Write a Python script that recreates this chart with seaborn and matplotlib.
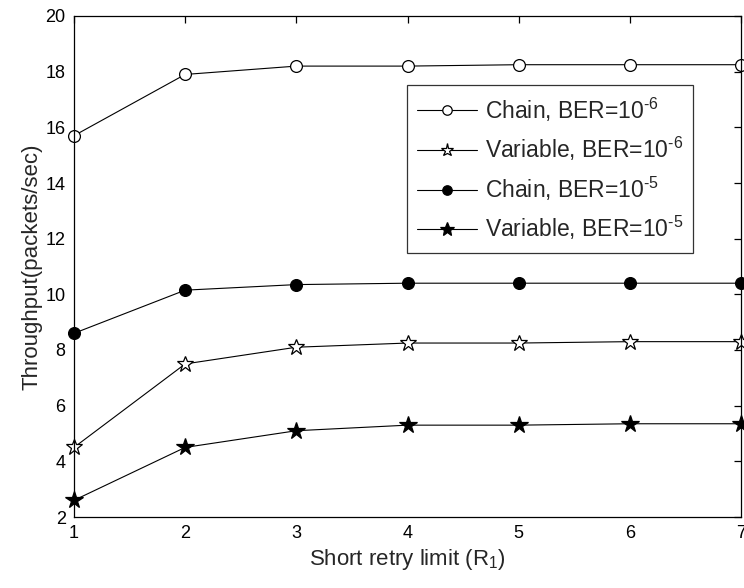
import matplotlib
matplotlib.use("Agg")
import matplotlib.pyplot as plt
import seaborn as sns
import pandas as pd

retry_limit = [1, 2, 3, 4, 5, 6, 7]
chain_ber6 = [15.7, 17.9, 18.2, 18.2, 18.25, 18.25, 18.25]
variable_ber6 = [4.5, 7.5, 8.1, 8.25, 8.25, 8.3, 8.3]
chain_ber5 = [8.6, 10.15, 10.35, 10.4, 10.4, 10.4, 10.4]
variable_ber5 = [2.6, 4.5, 5.1, 5.3, 5.3, 5.35, 5.35]

series_labels = [
    r"Chain, BER=10$^{\text{-6}}$",
    r"Variable, BER=10$^{\text{-6}}$",
    r"Chain, BER=10$^{\text{-5}}$",
    r"Variable, BER=10$^{\text{-5}}$",
]
series_values = [chain_ber6, variable_ber6, chain_ber5, variable_ber5]

rows = []
for label, vals in zip(series_labels, series_values):
    for x, y in zip(retry_limit, vals):
        rows.append({"R1": x, "Throughput": y, "Series": label})
df = pd.DataFrame(rows)

sns.set_style("white")
plt.rcParams["font.family"] = ["Liberation Sans", "DejaVu Sans"]
plt.rcParams["mathtext.fontset"] = "custom"
plt.rcParams["mathtext.rm"] = "Liberation Sans"
plt.rcParams["mathtext.it"] = "Liberation Sans"

fig = plt.figure(figsize=(7.44, 5.88), dpi=100)
ax = fig.add_axes([74 / 744, 1 - 517 / 588, (741 - 74) / 744, (517 - 16) / 588])

styles = {
    series_labels[0]: dict(marker="o", markerfacecolor="white", markersize=8.5),
    series_labels[1]: dict(marker="*", markerfacecolor="white", markersize=12),
    series_labels[2]: dict(marker="o", markerfacecolor="black", markersize=8.5),
    series_labels[3]: dict(marker="*", markerfacecolor="black", markersize=13),
}

for label in series_labels:
    sub = df[df["Series"] == label]
    sns.lineplot(data=sub, x="R1", y="Throughput", ax=ax, color="black",
                 linewidth=0.8, markeredgecolor="black", markeredgewidth=0.9,
                 label=label, clip_on=False, **styles[label])

ax.set_xlim(1, 7)
ax.set_ylim(2, 20)
ax.set_xticks(retry_limit)
ax.set_yticks(range(2, 21, 2))
ax.tick_params(direction="in", top=True, right=True, length=5, width=0.9,
               labelsize=13, colors="black", pad=6)
for sp in ax.spines.values():
    sp.set_color("black")
    sp.set_linewidth(0.9)

ax.set_xlabel(r"Short retry limit (R$_1$)", fontsize=16, labelpad=3)
ax.set_ylabel("Throughput(packets/sec)", fontsize=16, labelpad=2)

leg = ax.legend(loc="upper left", bbox_to_anchor=((407 - 74) / 667, 1 - (85 - 16) / 501),
                fontsize=16.5, frameon=True, fancybox=False, edgecolor="black",
                borderpad=0.45, labelspacing=0.5, handlelength=2.6,
                handletextpad=0.35, borderaxespad=0, markerscale=0.8)
leg.get_frame().set_linewidth(0.9)

fig.savefig("out.png", dpi=100, facecolor="white")
